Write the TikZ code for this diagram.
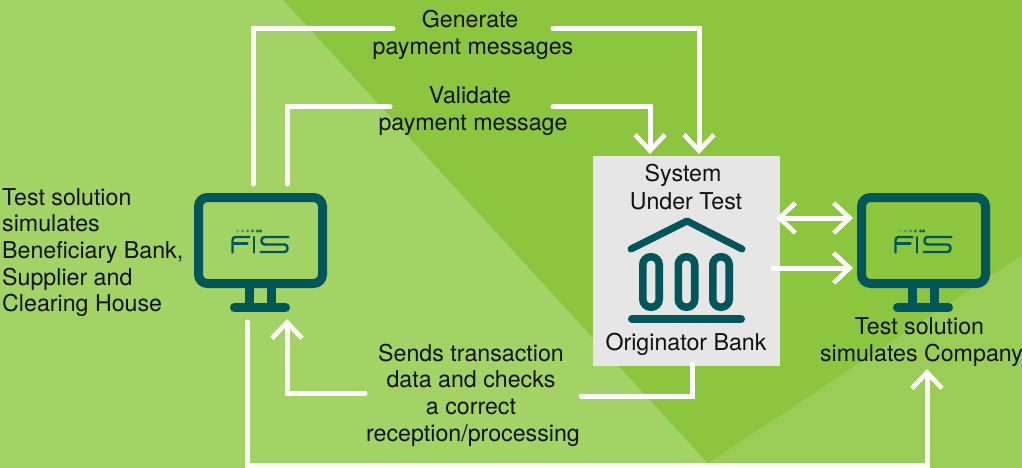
\documentclass[tikz,border=0pt]{standalone}
\usepackage{fontspec}
\setmainfont{TeX Gyre Heros}
\usetikzlibrary{arrows.meta}
\definecolor{bgdark}{HTML}{8BC63E}
\definecolor{bgleft}{HTML}{A3D265}
\definecolor{bgright}{HTML}{9ACD55}
\definecolor{teal}{HTML}{00565B}
\definecolor{boxgrey}{HTML}{E6E6E6}
\definecolor{inktext}{HTML}{111111}
\tikzset{
  x=1pt,y=-1pt,
  lbl/.style={font=\fontsize{23.2}{26.6}\selectfont,text=inktext,inner sep=0pt,align=center},
  conn/.style={draw=white,line width=5pt,line join=miter,line cap=round},
  tip/.style={-{Straight Barb[length=16pt,width=30pt,line width=4.6pt]}},
  twotip/.style={{Straight Barb[length=16pt,width=30pt,line width=4.6pt]}-{Straight Barb[length=16pt,width=30pt,line width=4.6pt]}},
  screen/.style={draw=teal,line width=9pt,rounded corners=9pt,minimum width=124pt,minimum height=86pt,inner sep=0pt},
  iconline/.style={draw=teal,line cap=round},
  monitor/.pic={
    \draw[teal,line width=9pt] (-11,47.5) -- (-11,65) (11,47.5) -- (11,65);
    \draw[iconline,line width=9pt] (-26,67) -- (25,67);
    \draw[iconline,line width=2.4pt,rounded corners=3pt] (-11,-3.5) -- (-28,-3.5) -- (-28,12);
    \draw[iconline,line width=2.4pt] (-27,3) -- (-13,3);
    \draw[iconline,line width=2.4pt] (-6.5,-3.5) -- (-6.5,12);
    \draw[iconline,line width=2.4pt,rounded corners=3.2pt] (28,-3.5) -- (1,-3.5) -- (1,4) -- (27,4) -- (27,11.5) -- (0,11.5);
    \foreach \dx/\shade in {-23/30,-18/45,-13/60,-8/75,-3/90,0/100}{
      \fill[teal!\shade!bgleft] (\dx,-9.5) circle (1.7pt);
    }
  }
}
\begin{document}
\begin{tikzpicture}
\useasboundingbox (0,0) rectangle (1022,468);
\fill[bgdark] (0,0) rectangle (1022,468);
\fill[bgleft] (0,0) -- (283,0) -- (712,468) -- (0,468) -- cycle;
\fill[bgright] (707,464) -- (1022,255) -- (1022,468) -- (707,468) -- cycle;

% monitors
\node[screen] (monA) at (260.5,240.5) {};
\pic at (260.5,240.5) {monitor};
\node[screen] (monB) at (923.5,240.5) {};
\pic at (923.5,240.5) {monitor};

% system under test
\node[fill=boxgrey,minimum width=187pt,minimum height=210pt,inner sep=0pt] (sut) at (686.5,261) {};
\draw[iconline,line width=7pt,line join=round] (631,249) -- (687,221) -- (742,249);
\foreach \cx in {651,686.5,721}{
  \draw[teal,line width=7.6pt,rounded corners=8pt] (\cx-8.2,256.8) rectangle (\cx+8.2,307.2);
}
\draw[iconline,line width=8pt] (632,319) -- (741,319);

% labels
\node[lbl] (gen) at (473,35) {\hspace*{-6pt}Generate\\payment messages};
\node[lbl] (val) at (473,111) {\hspace*{-6pt}Validate\\payment message};
\node[lbl] (send) at (471,395) {Sends transaction\\data and checks\\a correct\\\hspace*{4pt}reception/processing};
\node[lbl,align=left,anchor=west] (left) at (2,252.5) {Test solution\\simulates\\Beneficiary Bank,\\Supplier and\\Clearing House};
\node[lbl] (sys) at (686,187) {\hspace*{-6pt}System\\[1.5pt]Under Test};
\node[lbl] (orig) at (686,344) {Originator Bank};
\node[lbl] (comp) at (921.5,342) {Test solution\hspace*{4pt}\\simulates Company};

% connector end points
\coordinate (a1) at (253,184);
\coordinate (a2) at (393,29);
\coordinate (b1) at (553,29);
\coordinate (b2) at (699,154);
\coordinate (c1) at (287,184);
\coordinate (c2) at (390,107);
\coordinate (d1) at (553,107);
\coordinate (d2) at (650,154);
\coordinate (e1) at (692,364);
\coordinate (e2) at (581,396);
\coordinate (f1) at (365,393);
\coordinate (f2) at (287,319);
\coordinate (g1) at (247,322);
\coordinate (g2) at (927,369);
\coordinate (h1) at (776,218);
\coordinate (h2) at (853,218);
\coordinate (i1) at (773,268);
\coordinate (i2) at (853,268);
\coordinate (g3) at (247,465.5);
\coordinate (g4) at (927,465.5);

\draw[conn] (a1) |- (a2);
\draw[conn,tip] (b1) -| (b2);
\draw[conn] (c1) |- (c2);
\draw[conn,tip] (d1) -| (d2);
\draw[conn] (e1) |- (e2);
\draw[conn,tip] (f1) -| (f2);
\draw[conn,tip] (g1) -- (g3) -- (g4) -- (g2);
\draw[conn,twotip] (h1) -- (h2);
\draw[conn,tip] (i1) -- (i2);
\end{tikzpicture}
\end{document}
